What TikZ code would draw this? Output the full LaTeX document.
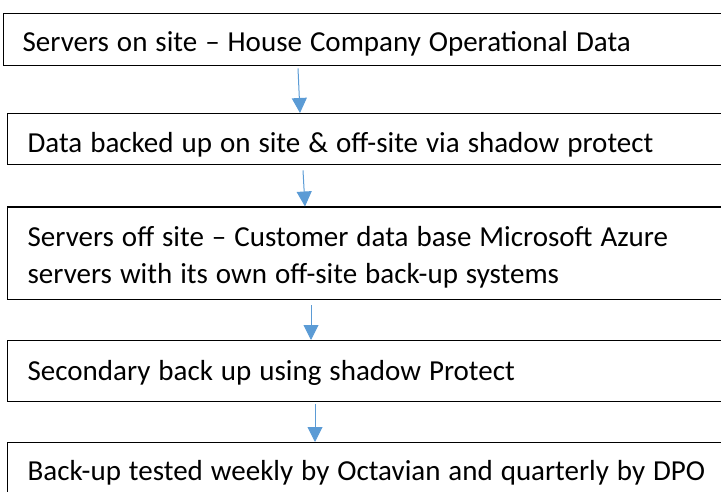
\documentclass[tikz,border=0pt]{standalone}
\usepackage{fontspec}
\setmainfont{Carlito}
\usepackage{xcolor}
\usepackage{tikz}
\usetikzlibrary{arrows.meta,calc}
\definecolor{flowblue}{HTML}{5B9BD5}

\begin{document}
\begin{tikzpicture}[x=1pt, y=-1pt,
    stepbox/.style={draw, line width=1.3pt, anchor=north west, inner xsep=20pt,
      inner ysep=0pt, text width=700pt, align=left,
      font=\fontsize{29}{37}\selectfont,
      execute at begin node=\spaceskip 0.275em\relax},
    flow/.style={flowblue, line width=1pt, -{Triangle[width=15pt,length=15pt]}}]
    \clip (0,0) rectangle (721,492);

    % Boxes
    \node[stepbox, inner xsep=19pt, text height=38pt, text depth=14pt] (site) at (3,13)
      {Servers on site – House Company Operational Data};
    \node[stepbox, text height=39pt, text depth=12pt] (backup) at (7,113)
      {Data backed up on site \& off-site via shadow protect};
    \node[stepbox, text height=39.5pt, text depth=53pt] (azure) at (7,206.5)
      {Servers off site – Customer data base Microsoft Azure\\
       servers with its own off-site back-up systems};
    \node[stepbox, text height=40pt, text depth=21pt] (secondary) at (7,340)
      {Secondary back up using shadow Protect};
    \node[stepbox, text height=38pt, text depth=20pt] (tested) at (7,442)
      {Back-up tested weekly by Octavian and quarterly by DPO};

    % Arrows
    \draw[flow] ($(site.south west)+(295,2)$) -- ($(backup.north west)+(293,0)$);
    \draw[flow] ($(backup.south west)+(296,5)$) -- ($(azure.north west)+(298,0)$);
    \draw[flow] ($(azure.south west)+(304,5)$) -- ($(secondary.north west)+(304,0)$);
    \draw[flow] ($(secondary.south west)+(308,2)$) -- ($(tested.north west)+(308,0)$);
\end{tikzpicture}
\end{document}
